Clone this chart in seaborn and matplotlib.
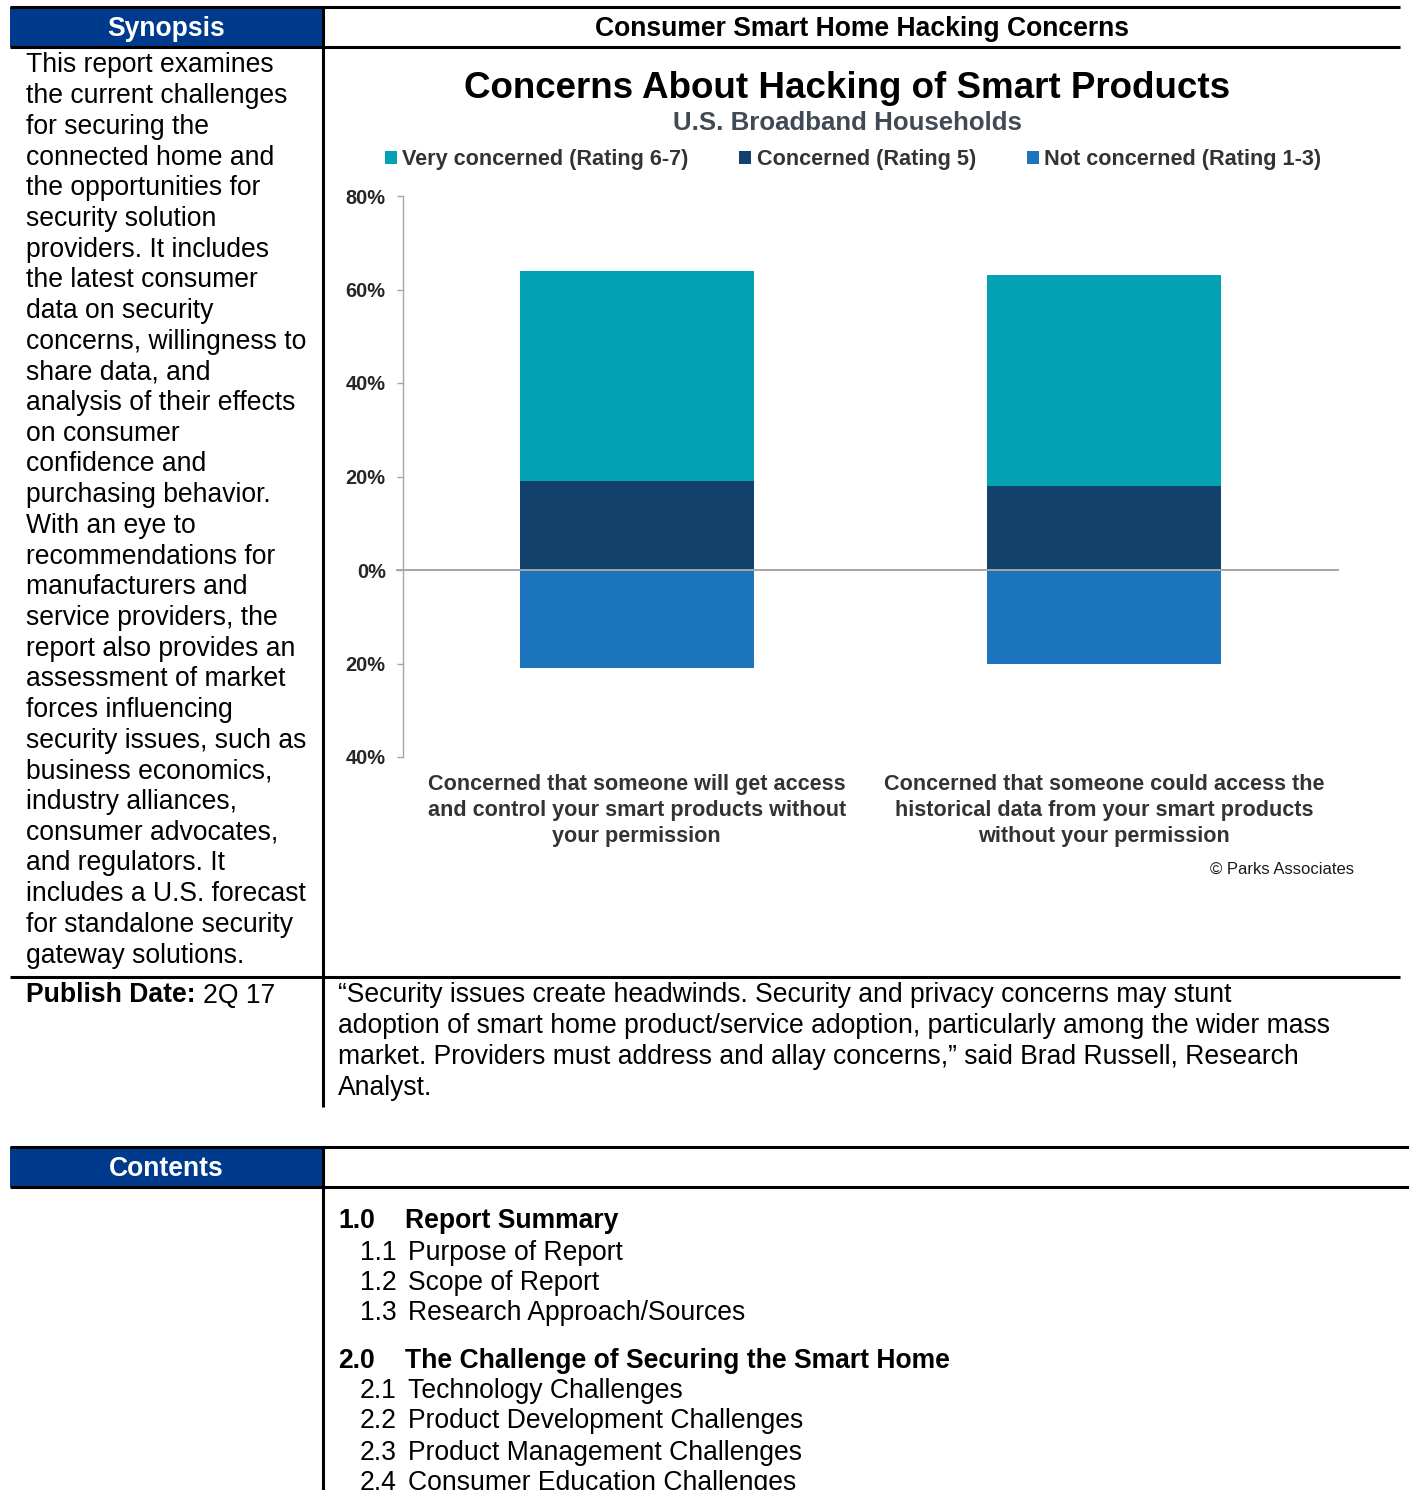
import matplotlib
matplotlib.use("Agg")
import matplotlib.pyplot as plt
from matplotlib.patches import Rectangle, Patch
import seaborn as sns
import pandas as pd

# ---------------- data ----------------
categories = [
    "Concerned that someone will get access\nand control your smart products without\nyour permission",
    "Concerned that someone could access the\nhistorical data from your smart products\nwithout your permission",
]
very_concerned = [45, 45]        # Rating 6-7
concerned = [19, 18]             # Rating 5
not_concerned = [21, 20]         # Rating 1-3 (plotted below zero)
series_labels = ["Very concerned (Rating 6-7)", "Concerned (Rating 5)", "Not concerned (Rating 1-3)"]
y_ticks = [-40, -20, 0, 20, 40, 60, 80]

chart_title = "Concerns About Hacking of Smart Products"
chart_subtitle = "U.S. Broadband Households"
section_title = "Consumer Smart Home Hacking Concerns"

synopsis_lines = [
    "This report examines", "the current challenges", "for securing the",
    "connected home and", "the opportunities for", "security solution",
    "providers. It includes", "the latest consumer", "data on security",
    "concerns, willingness to", "share data, and", "analysis of their effects",
    "on consumer", "confidence and", "purchasing behavior.", "With an eye to",
    "recommendations for", "manufacturers and", "service providers, the",
    "report also provides an", "assessment of market", "forces influencing",
    "security issues, such as", "business economics,", "industry alliances,",
    "consumer advocates,", "and regulators. It", "includes a U.S. forecast",
    "for standalone security", "gateway solutions.",
]
quote_lines = [
    "\u201cSecurity issues create headwinds. Security and privacy concerns may stunt",
    "adoption of smart home product/service adoption, particularly among the wider mass",
    "market. Providers must address and allay concerns,\u201d said Brad Russell, Research",
    "Analyst.",
]
toc_numbers = ["1.0", "1.1", "1.2", "1.3", "2.0", "2.1", "2.2", "2.3", "2.4"]
toc_titles = ["Report Summary", "Purpose of Report", "Scope of Report",
              "Research Approach/Sources", "The Challenge of Securing the Smart Home",
              "Technology Challenges", "Product Development Challenges",
              "Product Management Challenges", "Consumer Education Challenges"]
toc_is_heading = [True, False, False, False, True, False, False, False, False]

# ---------------- style ----------------
W, H = 1409, 1490
TEAL, NAVY, BLUE = "#03A1B4", "#12416C", "#1C75BC"
HDR_BLUE = "#003A8C"
GREY = "#A6A6A6"
plt.rcParams["font.family"] = ["Liberation Sans", "DejaVu Sans"]

fig = plt.figure(figsize=(W / 100, H / 100), dpi=100)
fig.patch.set_facecolor("white")

# overlay axes in pixel coordinates
ov = fig.add_axes([0, 0, 1, 1])
ov.set_xlim(0, W)
ov.set_ylim(H, 0)
ov.axis("off")

BODY = 19.1
lw_frame = 2.2
DY = 1.5  # vertical nudge for centred text

# header rows
ov.add_patch(Rectangle((10, 7), 312, 40, color=HDR_BLUE, lw=0))
ov.add_patch(Rectangle((10, 1147), 312, 40, color=HDR_BLUE, lw=0))
ov.plot([10, 1400], [7, 7], color="black", lw=lw_frame, solid_capstyle="butt")
ov.plot([10, 1400], [47, 47], color="black", lw=lw_frame, solid_capstyle="butt")
ov.plot([10, 1400], [977, 977], color="black", lw=lw_frame, solid_capstyle="butt")
ov.plot([10, 1409], [1147, 1147], color="black", lw=lw_frame, solid_capstyle="butt")
ov.plot([10, 1409], [1187, 1187], color="black", lw=lw_frame, solid_capstyle="butt")
ov.plot([323, 323], [7, 1107], color="black", lw=lw_frame, solid_capstyle="butt")
ov.plot([323, 323], [1147, 1490], color="black", lw=lw_frame, solid_capstyle="butt")

ov.text(166, 27 + DY, "Synopsis", color="white", fontsize=BODY, fontweight="bold", ha="center", va="center")
ov.text(166, 1167 + DY, "Contents", color="white", fontsize=BODY, fontweight="bold", ha="center", va="center")
ov.text(862, 27 + DY, section_title, color="black", fontsize=BODY, fontweight="bold", ha="center", va="center")

# synopsis text
for i, line in enumerate(synopsis_lines):
    ov.text(26, 64 + DY + i * 30.69, line, fontsize=BODY, ha="left", va="center", color="black")

# publish date
ov.text(26, 994 + DY, "Publish Date:", fontsize=BODY, fontweight="bold", ha="left", va="center")
ov.text(203, 994 + DY, "2Q 17", fontsize=BODY, ha="left", va="center")

# quote
for i, line in enumerate(quote_lines):
    ov.text(338, 994 + DY + i * 30.69, line, fontsize=BODY, ha="left", va="center")

# table of contents
toc_y = [1220, 1251, 1281, 1312, 1359, 1389, 1420, 1451, 1481]
for num, title, head, y in zip(toc_numbers, toc_titles, toc_is_heading, toc_y):
    if head:
        ov.text(338, y + DY, num, fontsize=BODY, fontweight="bold", ha="left", va="center")
        ov.text(405, y + DY, title, fontsize=BODY, fontweight="bold", ha="left", va="center")
    else:
        ov.text(360, y + DY, num, fontsize=BODY, ha="left", va="center")
        ov.text(408, y + DY, title, fontsize=BODY, ha="left", va="center")

# chart titles
ov.text(847, 88, chart_title, fontsize=26.5, fontweight="bold", ha="center", va="center", color="black")
ov.text(847, 122.5, chart_subtitle, fontsize=18.6, fontweight="bold", ha="center", va="center", color="#404A55")
ov.text(1354, 869, "\u00a9 Parks Associates", fontsize=12, ha="right", va="center", color="#1a1a1a")

# ---------------- chart ----------------
left, right, top, bottom = 403, 1338, 196, 757
ax = fig.add_axes([left / W, 1 - bottom / H, (right - left) / W, (bottom - top) / H])
ax.set_facecolor("none")

df = pd.DataFrame({
    "category": categories,
    "very": very_concerned,
    "concerned": concerned,
    "not": not_concerned,
})
df["total"] = df["very"] + df["concerned"]
df["neg"] = -df["not"]

common = dict(x="category", order=categories, width=0.5, saturation=1,
              errorbar=None, linewidth=0, ax=ax)
sns.barplot(data=df, y="total", color=TEAL, **common)
sns.barplot(data=df, y="concerned", color=NAVY, **common)
sns.barplot(data=df, y="neg", color=BLUE, **common)

ax.axhline(0, color=GREY, lw=1.4, zorder=5, xmin=-0.006, clip_on=False)
ax.set_xlim(-0.5, 1.5)
ax.set_ylim(-40, 80)
ax.set_yticks(y_ticks)
ax.set_yticklabels([f"{abs(v)}%" for v in y_ticks], fontsize=14.4, fontweight="bold", color="#262626")
ax.set_xticks(range(len(categories)))
ax.set_xticklabels(categories, fontsize=15.6, fontweight="bold", color="#333333", linespacing=1.32)
ax.tick_params(axis="x", length=0, pad=12)
ax.tick_params(axis="y", length=4, width=1, color=GREY, pad=8.5, direction="out")
for s in ["top", "right", "bottom"]:
    ax.spines[s].set_visible(False)
ax.spines["left"].set_color(GREY)
ax.spines["left"].set_linewidth(1)
ax.set_xlabel("")
ax.set_ylabel("")

handles = [Patch(color=c, lw=0) for c in (TEAL, NAVY, BLUE)]
leg = ov.legend(handles, series_labels, loc="center", bbox_to_anchor=(853, 160),
                bbox_transform=ov.transData, ncol=3, frameon=False,
                prop={"size": 15.6, "weight": "bold"}, handlelength=0.55, handleheight=0.55,
                handletextpad=0.25, columnspacing=2.35, borderaxespad=0, borderpad=0)
for txt in leg.get_texts():
    txt.set_color("#333333")

fig.savefig("out.png", dpi=100)
